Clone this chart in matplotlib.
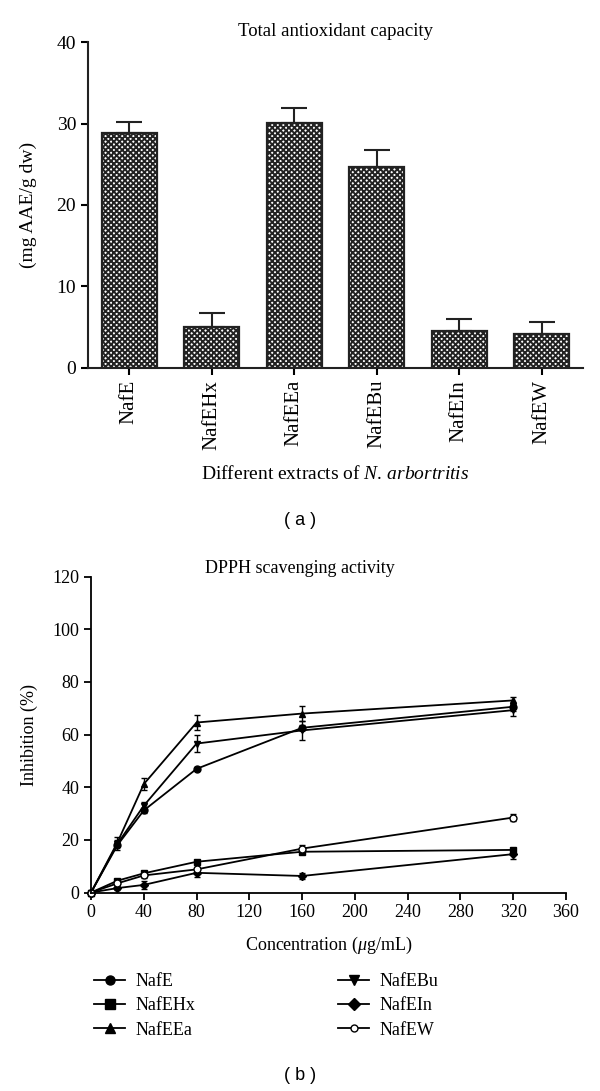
import numpy as np
import matplotlib
matplotlib.use("Agg")
import matplotlib.pyplot as plt
from matplotlib.lines import Line2D

plt.rcParams['font.family'] = ['Liberation Serif', 'DejaVu Serif']
plt.rcParams['mathtext.fontset'] = 'custom'
plt.rcParams['mathtext.it'] = 'Liberation Serif:italic'
plt.rcParams['mathtext.rm'] = 'Liberation Serif'
plt.rcParams['hatch.linewidth'] = 1.4

# (a) total antioxidant capacity
extracts = ['NafE', 'NafEHx', 'NafEEa', 'NafEBu', 'NafEIn', 'NafEW']
tac = [28.8, 5.0, 30.1, 24.7, 4.55, 4.15]
tac_err = [1.4, 1.75, 1.8, 2.1, 1.5, 1.45]

# (b) DPPH scavenging
conc = [0, 20, 40, 80, 160, 320]
nafe = [0, 18.0, 31.2, 47.0, 62.6, 70.6]
nafe_err = [0.3, 0.8, 0.8, 0.6, 1.0, 1.5]
nafehx = [0, 4.5, 7.3, 11.7, 15.5, 16.2]
nafehx_err = [0.3, 0.8, 1.0, 0.8, 0.8, 0.8]
nafeea = [0, 19.0, 41.2, 64.6, 68.0, 73.0]
nafeea_err = [0.3, 1.0, 2.3, 3.0, 3.0, 1.3]
nafebu = [0, 18.5, 33.0, 56.6, 61.6, 69.3]
nafebu_err = [0.3, 2.5, 1.3, 3.2, 3.5, 2.3]
nafein = [0, 1.7, 2.9, 7.5, 6.3, 14.6]
nafein_err = [0.3, 0.8, 1.5, 1.5, 1.0, 2.0]
nafew = [0, 3.5, 6.5, 8.8, 16.7, 28.5]
nafew_err = [0.3, 0.8, 1.0, 0.8, 1.2, 1.3]

fig = plt.figure(figsize=(6.0, 10.91), dpi=100)

# ---- panel a
ax1 = fig.add_axes([0.1467, 0.6627, 0.825, 0.2988])
x = np.arange(len(extracts))
ax1.bar(x, tac, width=0.67, color='white', edgecolor='#222222',
        hatch='xxxxxx', linewidth=1.6, zorder=2)
ax1.errorbar(x, tac, yerr=[np.zeros(len(tac)), tac_err], fmt='none',
             ecolor='#222222', elinewidth=1.5, capsize=9.5, capthick=1.5, zorder=3)
ax1.set_xlim(-0.5, 5.5)
ax1.set_ylim(0, 40)
ax1.set_yticks([0, 10, 20, 30, 40])
ax1.set_xticks(x)
ax1.set_xticklabels(extracts, rotation=90, fontsize=15)
ax1.tick_params(axis='y', labelsize=14, length=5, width=1.5, direction='out')
ax1.tick_params(axis='x', length=5, width=1.5, direction='out')
for s in ['top', 'right']:
    ax1.spines[s].set_visible(False)
for s in ['left', 'bottom']:
    ax1.spines[s].set_linewidth(1.5)
    ax1.spines[s].set_color('#222222')
ax1.set_ylabel('(mg AAE/g dw)', fontsize=14, labelpad=14)
ax1.set_title('Total antioxidant capacity', fontsize=13.5, pad=4)
ax1.set_xlabel('Different extracts of $N$. $arbortritis$', fontsize=14, labelpad=11)
fig.text(0.5, 1 - 520 / 1091, '( a )', ha='center', va='center',
         fontsize=13, family='Liberation Sans')

# ---- panel b
ax2 = fig.add_axes([0.1517, 0.1819, 0.7917, 0.2895])
series = [
    ('NafE', nafe, nafe_err, 'o', 'black'),
    ('NafEHx', nafehx, nafehx_err, 's', 'black'),
    ('NafEEa', nafeea, nafeea_err, '^', 'black'),
    ('NafEBu', nafebu, nafebu_err, 'v', 'black'),
    ('NafEIn', nafein, nafein_err, 'D', 'black'),
    ('NafEW', nafew, nafew_err, 'o', 'white'),
]
handles = []
for name, vals, err, mk, fc in series:
    ms = 4.5 if mk == 'D' else 5
    ax2.errorbar(conc, vals, yerr=err, color='black', marker=mk, markersize=ms,
                 markerfacecolor=fc, markeredgecolor='black', linewidth=1.3,
                 elinewidth=1.0, capsize=2.5, capthick=1.0, clip_on=False)
    lms = ms if fc == 'white' else ms + 1.5
    handles.append(Line2D([], [], color='black', marker=mk, markersize=lms,
                          markerfacecolor=fc, markeredgecolor='black', linewidth=1.3))
ax2.set_xlim(0, 360)
ax2.set_ylim(0, 120)
ax2.set_xticks(np.arange(0, 361, 40))
ax2.set_yticks(np.arange(0, 121, 20))
ax2.tick_params(labelsize=13, length=5, width=1.3, direction='out')
for s in ['top', 'right']:
    ax2.spines[s].set_visible(False)
for s in ['left', 'bottom']:
    ax2.spines[s].set_linewidth(1.3)
ax2.set_ylabel('Inhibition (%)', fontsize=13, labelpad=10)
ax2.set_xlabel('Concentration ($\\mu$g/mL)', fontsize=13, labelpad=10)
ax2.set_title('DPPH scavenging activity', fontsize=13, pad=3, x=0.44)
leg = fig.legend(handles=handles, labels=[s[0] for s in series], ncol=2,
                 loc='upper left', bbox_to_anchor=(0.13, 1 - 957 / 1091),
                 frameon=False, fontsize=13, handlelength=1.7,
                 columnspacing=7.9, labelspacing=0.4, handletextpad=0.6)
fig.text(0.5, 1 - 1075 / 1091, '( b )', ha='center', va='center',
         fontsize=13, family='Liberation Sans')

fig.savefig('out.png', dpi=100)
